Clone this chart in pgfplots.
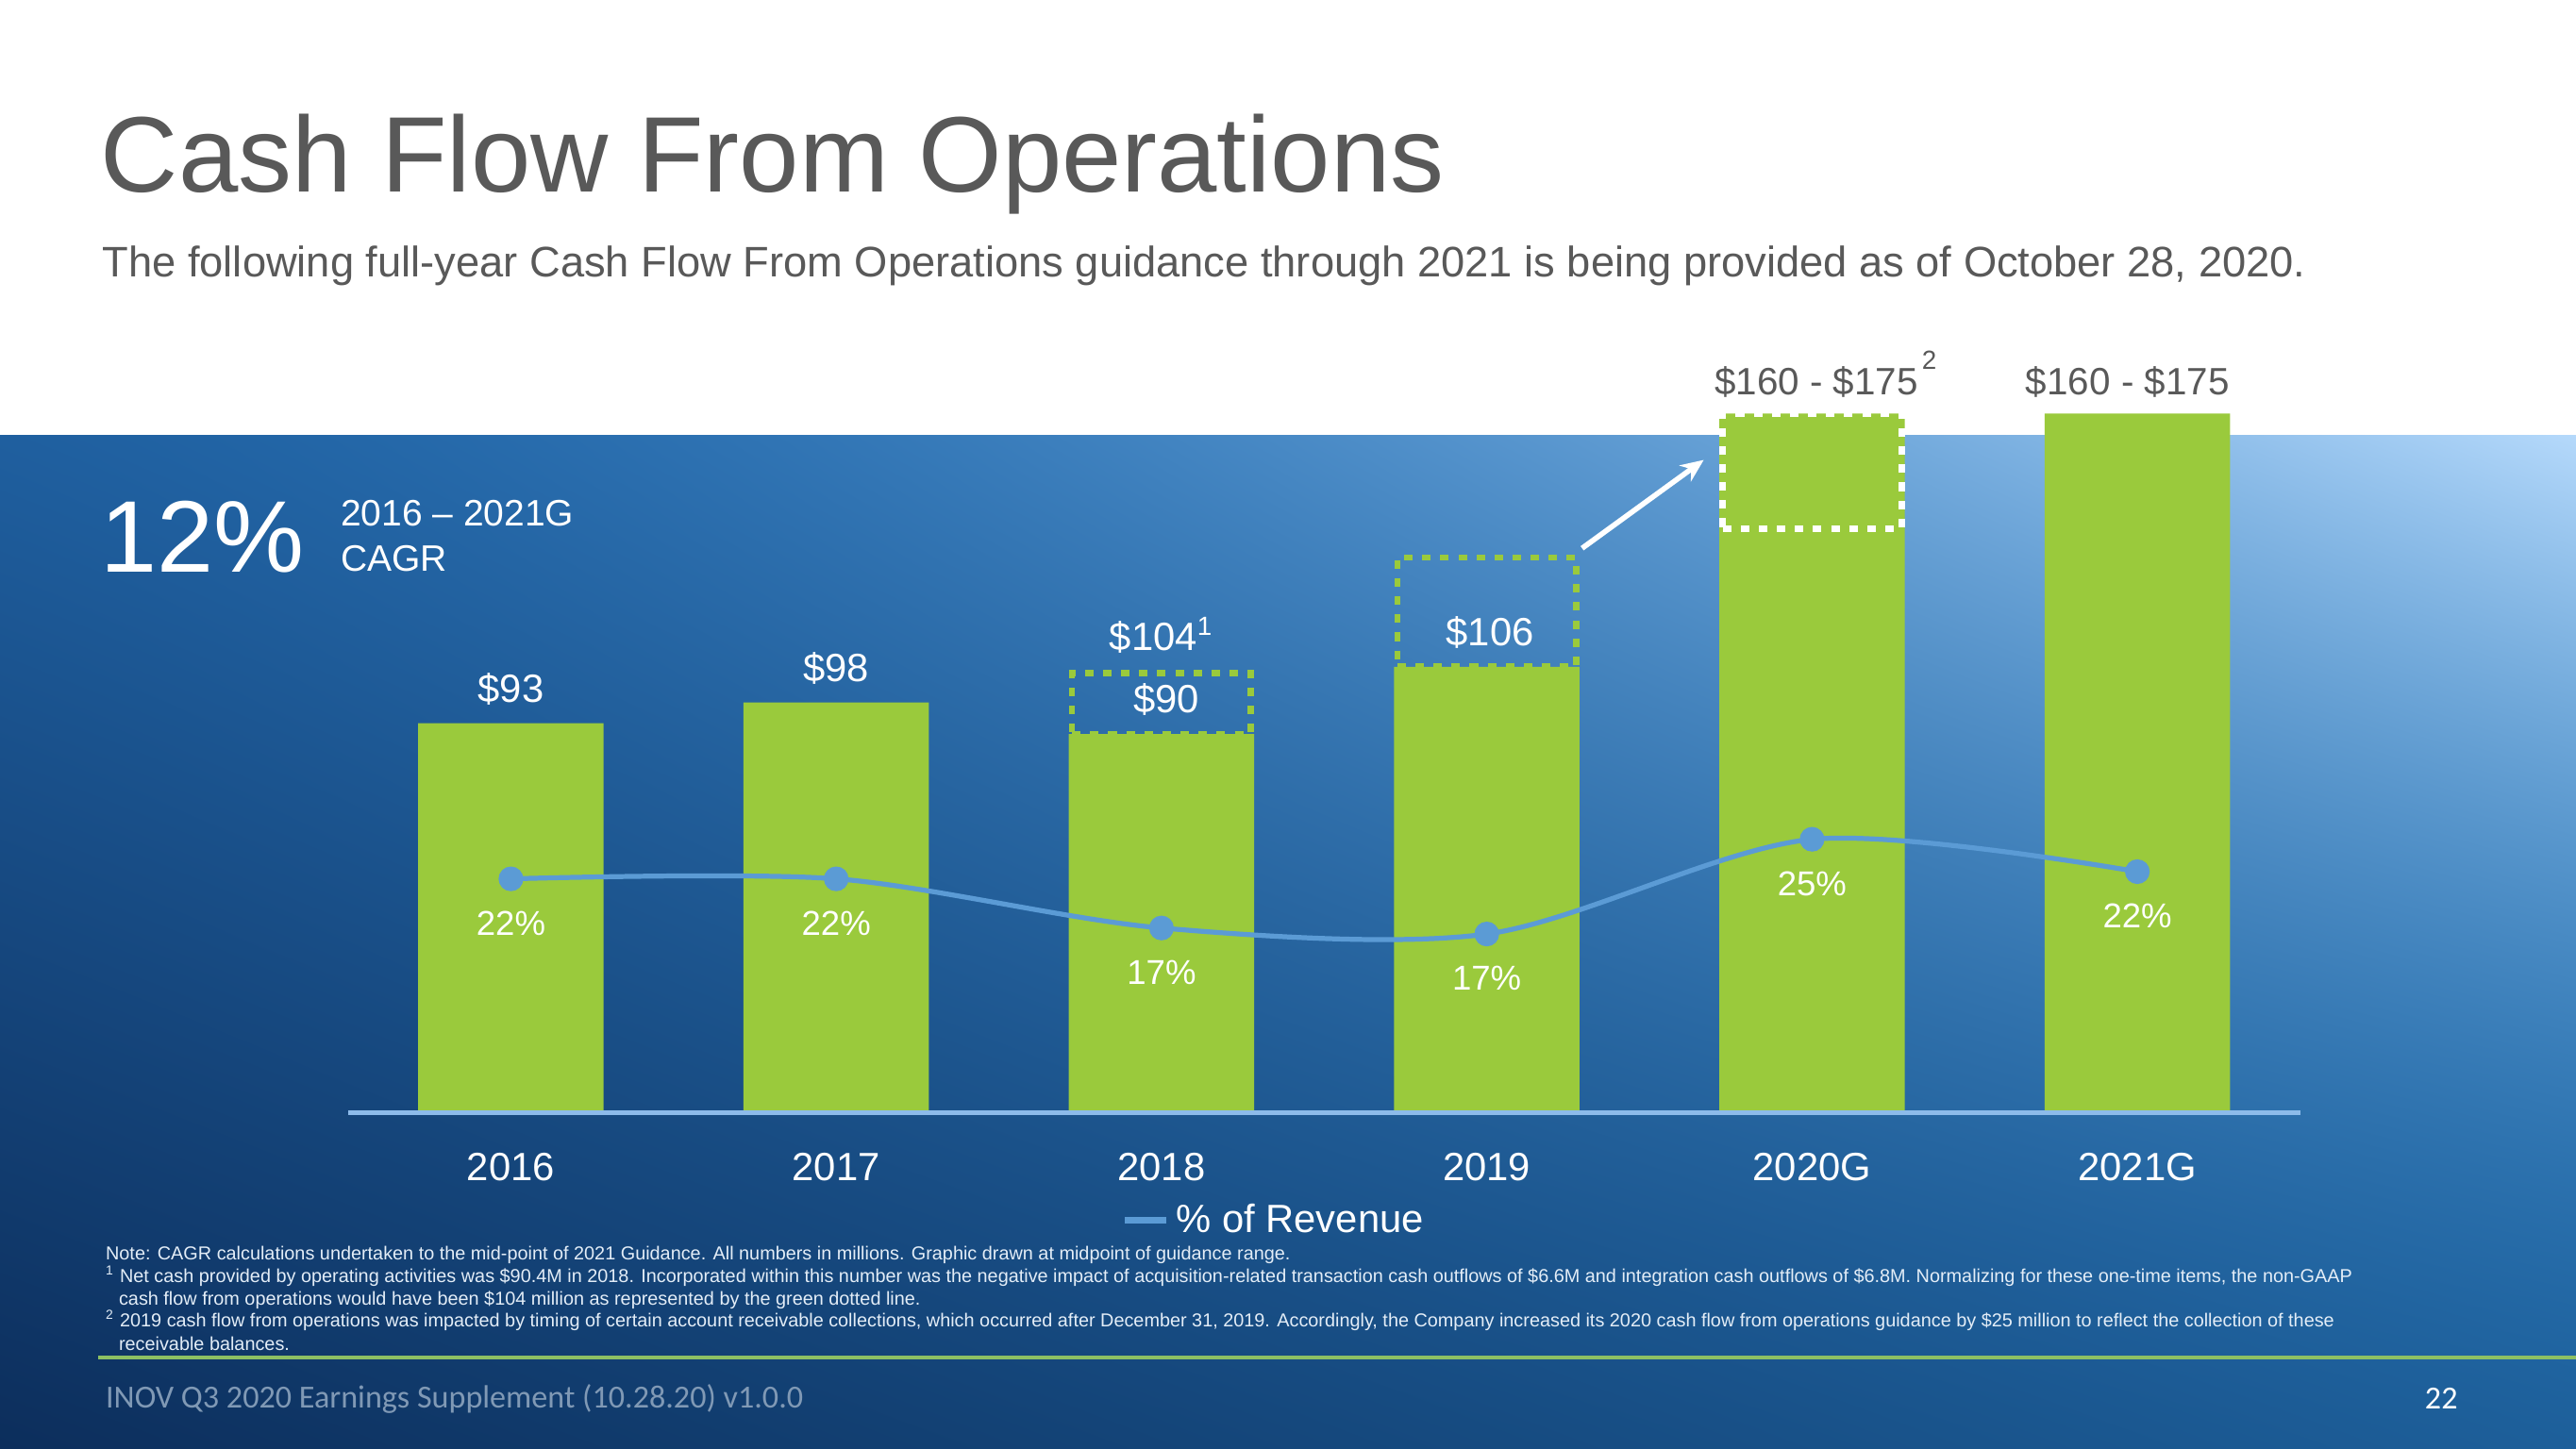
\documentclass[border=0pt]{standalone}
\usepackage{fontspec}
\setmainfont{Liberation Sans}
\newfontfamily\calibri{Carlito}
\usepackage{pgfplots}
\pgfplotsset{compat=1.18}
\usetikzlibrary{arrows.meta}

\definecolor{barg}{HTML}{9ACA3C}
\definecolor{linec}{HTML}{5B9BD5}
\definecolor{titleg}{HTML}{595959}
\definecolor{basel}{HTML}{8DBBEA}
\definecolor{greenline}{HTML}{8DC063}
\definecolor{footg}{HTML}{8099B5}
\definecolor{notec}{HTML}{E3EDF7}

\pgfdeclarefunctionalshading{slidebg}{\pgfpoint{0bp}{0bp}}{\pgfpoint{100bp}{100bp}}{}{%
 25 sub 50 div exch 25 sub 50 div exch
 2 copy mul dup mul 0.521 mul 2 index 0.067 mul add 1 index 0.075 mul add 0.047 add
 3 1 roll
 2 copy mul dup mul 0.285 mul 2 index 0.193 mul add 1 index 0.193 mul add 0.18 add
 3 1 roll
 2 copy mul dup mul 0.116 mul 2 index 0.244 mul add 1 index 0.264 mul add 0.36 add
 3 1 roll
 pop pop
}

\newcommand\fs[1]{\fontsize{#1}{#1}\selectfont}

\pgfplotstableread{
x val
0 93
1 98
2 90.4
3 106.5
4 167
5 167
}\cfobars

\pgfplotstableread{
x pct lab
0 21.7 22\%
1 21.7 22\%
2 17.6 17\%
3 17.1 17\%
4 25.0 25\%
5 22.3 22\%
}\pcttab

\begin{document}
\begin{tikzpicture}
\begin{scope}[x=0.5pt,y=-0.5pt]
\path[use as bounding box] (0,0) rectangle (1568,882);
\fill[white] (0,0) rectangle (1568,265);
\shade[shading=slidebg] (0,265) rectangle (1568,882);
\node[anchor=base west, inner sep=0, text=titleg, font=\fs{32.7}] at (61,117) {Cash Flow From Operations};
\node[anchor=base west, inner sep=0, text=titleg, font=\fs{13}] at (62,168.5) {The following full-year Cash Flow From Operations guidance through 2021 is being provided as of October 28, 2020.};
\node[anchor=base west, inner sep=0, text=white, font=\fs{31}] at (61,348.5) {12\%};
\node[anchor=base west, inner sep=0, text=white, font=\fs{11.2}, align=left] at (207,347.5) {2016 – 2021G\\[2.5pt]CAGR};
% footnotes
\begin{scope}[every node/.style={anchor=base west, inner sep=0, text=notec, font=\fs{5.7}}]
\node at (64,767) {Note: CAGR calculations undertaken to the mid-point of 2021 Guidance. All numbers in millions. Graphic drawn at midpoint of guidance range.};
\node at (64,781) {\textsuperscript{1} Net cash provided by operating activities was \$90.4M in 2018. Incorporated within this number was the negative impact of acquisition-related transaction cash outflows of \$6.6M and integration cash outflows of \$6.8M. Normalizing for these one-time items, the non-GAAP};
\node at (72,794.5) {cash flow from operations would have been \$104 million as represented by the green dotted line.};
\node at (64,808) {\textsuperscript{2} 2019 cash flow from operations was impacted by timing of certain account receivable collections, which occurred after December 31, 2019. Accordingly, the Company increased its 2020 cash flow from operations guidance by \$25 million to reflect the collection of these};
\node at (72,822) {receivable balances.};
\end{scope}
\draw[greenline, line width=1pt] (60,826.5) -- (1568,826.5);
\node[anchor=base west, inner sep=0, text=footg, font=\calibri\fs{9.8}] at (64,857.5) {INOV Q3 2020 Earnings Supplement (10.28.20) v1.0.0};
\node[anchor=base, inner sep=0, text=white, font=\calibri\fs{9.8}] at (1486,858) {22};
\end{scope}

% ---- bars axis
\begin{axis}[
  at={(106pt,-338.7pt)}, anchor=south west,
  scale only axis, width=594pt, height=229.4pt,
  xmin=-0.5, xmax=5.5, ymin=0, ymax=180,
  axis line style={draw=none}, ytick=\empty,
  xtick={0,...,5},
  xticklabels={2016,2017,2018,2019,2020G,2021G},
  major tick length=0pt,
  xticklabel style={font=\fs{12}, text=white, anchor=base, yshift=-20.8pt},
  clip=false,
]
\addplot[ybar, bar width=0.57, fill=barg, draw=none, bar shift=0pt] table[x=x,y=val] {\cfobars};
% dotted boxes
\addplot[barg, line width=1.9pt, dash pattern=on 2.6pt off 2.9pt] coordinates {(1.725,90.4) (2.275,90.4) (2.275,105) (1.725,105) (1.725,90.4)};
\addplot[barg, line width=1.9pt, dash pattern=on 2.6pt off 2.9pt] coordinates {(2.725,106.5) (3.275,106.5) (3.275,132.6) (2.725,132.6) (2.725,106.5)};
\addplot[white, line width=1.9pt, dash pattern=on 2.6pt off 2.9pt] coordinates {(3.725,139.4) (4.275,139.4) (4.275,167) (3.725,167) (3.725,139.4)};
\draw[basel, line width=1.5pt] (axis cs:-0.5,0) -- (axis cs:5.5,0);
\draw[white, line width=1.6pt, -{Stealth[length=7pt,width=6pt]}] (axis cs:3.293,134.8) -- (axis cs:3.667,155.9);
% value labels
\begin{scope}[every node/.style={anchor=base, inner sep=0, text=white, font=\fs{12}}]
\node at (axis cs:0,98) {\$93};
\node at (axis cs:1,103) {\$98};
\node at (axis cs:2,110.5) {\$104\textsuperscript{1}};
\node at (axis cs:2.015,95.5) {\$90};
\node at (axis cs:3.01,111.6) {\$106};
\node[text=titleg, font=\fs{11.6}] at (axis cs:4.013,171.5) {\$160 - \$175};
\node[text=titleg, font=\fs{8}] at (axis cs:4.36,177.5) {2};
\node[text=titleg, font=\fs{11.6}] at (axis cs:4.97,171.5) {\$160 - \$175};
\end{scope}
\end{axis}

% ---- percent axis
\begin{axis}[
  at={(106pt,-338.7pt)}, anchor=south west,
  scale only axis, width=594pt, height=229.4pt,
  xmin=-0.5, xmax=5.5, ymin=2.205, ymax=65.05,
  hide axis, clip=false,
  legend style={at={(0.396,-0.143)}, anchor=west, draw=none, fill=none,
     text=white, font=\fs{12}, inner sep=0pt, outer sep=0pt},
  legend image code/.code={\draw[linec, line width=2.2pt] (0pt,0pt) -- (12.5pt,0pt);},
]
\addplot[smooth, color=linec, line width=1.5pt, mark=*, mark size=3pt,
  mark options={fill=linec, draw=linec},
  nodes near coords, point meta=explicit symbolic,
  every node near coord/.append style={anchor=center, yshift=-13.5pt, font=\fs{10.5}, text=white}]
  table[x=x, y=pct, meta=lab] {\pcttab};
\addlegendentry{\% of Revenue}
\end{axis}
\end{tikzpicture}
\end{document}
